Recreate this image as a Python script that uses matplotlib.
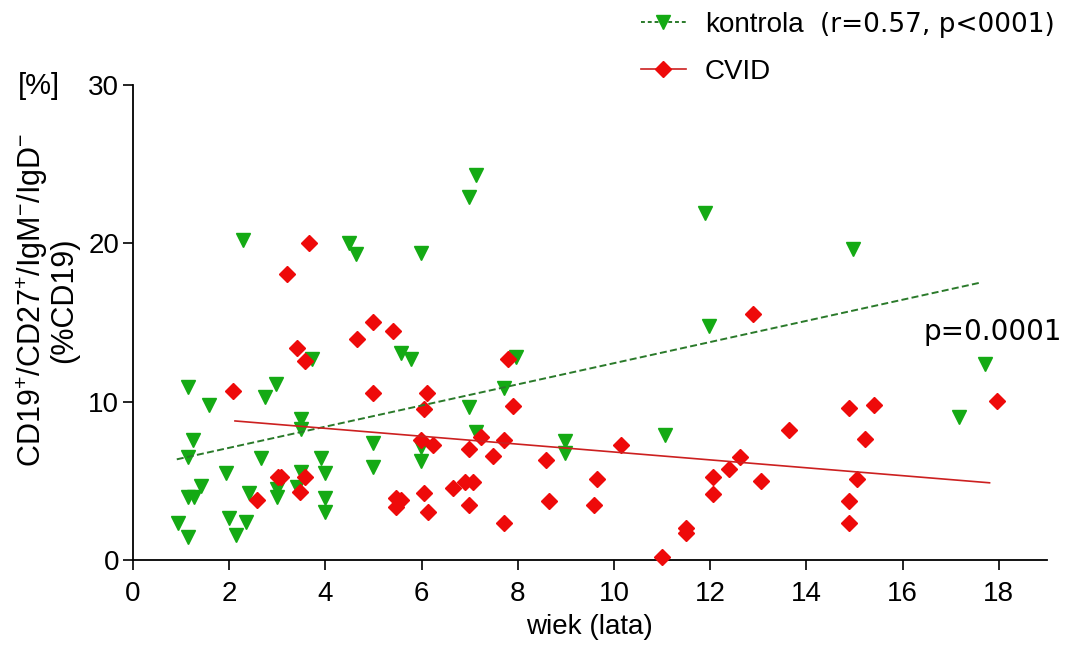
import matplotlib

matplotlib.use("Agg")
import matplotlib.pyplot as plt
from matplotlib.lines import Line2D

plt.rcParams["font.family"] = ["Liberation Sans", "DejaVu Sans"]
plt.rcParams["mathtext.default"] = "regular"

# kontrola: age (years) and CD19+/CD27+/IgM-/IgD- (% of CD19)
kontrola_wiek = [
    2.29, 4.49, 4.64, 5.99, 5.57, 5.78, 3.73, 1.15, 2.98, 2.74,
    1.58, 3.49, 3.49, 1.25, 1.15, 4.99, 5.99, 2.66, 3.91, 5.99,
    4.99, 1.94, 3.49, 4.00, 1.41, 2.41, 3.00, 3.00, 3.40, 1.15,
    1.27, 4.00, 4.00, 0.93, 1.99, 2.34, 1.15, 2.15, 7.14, 6.98,
    7.97, 7.72, 6.98, 7.14, 8.98, 8.98, 11.07, 11.90, 14.98, 11.97,
    17.72, 17.17,
]
kontrola_proc = [
    20.2, 20.05, 19.3, 19.4, 13.06, 12.7, 12.7, 10.95, 11.1, 10.3,
    9.77, 8.9, 8.3, 7.58, 6.48, 7.4, 7.16, 6.46, 6.46, 6.25,
    5.9, 5.47, 5.54, 5.47, 4.67, 4.25, 4.48, 4.0, 4.63, 4.0,
    4.0, 3.94, 3.05, 2.36, 2.63, 2.42, 1.47, 1.58, 24.3, 22.9,
    12.84, 10.88, 9.69, 8.1, 7.5, 6.74, 7.9, 21.9, 19.65, 14.78,
    12.38, 9.05,
]

# CVID patients
cvid_wiek = [
    3.65, 3.20, 4.99, 5.40, 4.65, 3.41, 3.57, 2.08, 4.99, 6.12,
    6.06, 5.99, 6.23, 3.01, 3.08, 3.57, 2.57, 3.48, 5.47, 5.57,
    5.47, 6.06, 6.13, 7.79, 7.90, 7.23, 7.72, 6.98, 7.49, 8.58,
    10.14, 9.64, 6.65, 6.90, 7.07, 6.98, 8.64, 9.59, 7.72, 11.49,
    11.49, 10.99, 12.89, 17.97, 14.88, 15.40, 13.64, 15.22, 12.63, 12.40,
    12.06, 13.06, 15.05, 12.06, 14.88, 14.88,
]
cvid_proc = [
    20.0, 18.05, 15.06, 14.47, 13.96, 13.37, 12.57, 10.7, 10.53, 10.55,
    9.56, 7.6, 7.26, 5.22, 5.22, 5.27, 3.79, 4.32, 3.9, 3.79,
    3.33, 4.23, 3.05, 12.7, 9.73, 7.79, 7.58, 7.01, 6.57, 6.32,
    7.26, 5.1, 4.53, 4.91, 4.91, 3.47, 3.75, 3.47, 2.32, 2.0,
    1.73, 0.2, 15.52, 10.06, 9.62, 9.79, 8.21, 7.62, 6.53, 5.77,
    5.22, 5.01, 5.1, 4.15, 3.75, 2.32,
]

# linear regression lines (x range, intercept, slope)
kontrola_fit_x = [0.91, 17.64]
kontrola_fit = (5.75, 0.668)
cvid_fit_x = [2.12, 17.81]
cvid_fit = (9.31, -0.249)

x_ticks = [0, 2, 4, 6, 8, 10, 12, 14, 16, 18]
y_ticks = [0, 10, 20, 30]

green = "#14aa14"
green_line = "#2a7a2a"
red = "#ee0a0a"
red_line = "#cc2020"

fig = plt.figure(figsize=(10.65, 6.45), dpi=100)
ax = fig.add_axes([0.1249, 0.1318, 0.858, 0.7364])

ax.plot(kontrola_wiek, kontrola_proc, linestyle="none", marker="v",
        markersize=9.5, color=green, clip_on=False, zorder=3)
ax.plot(cvid_wiek, cvid_proc, linestyle="none", marker="D",
        markersize=8.5, color=red, clip_on=False, zorder=4)

ky = [kontrola_fit[0] + kontrola_fit[1] * x for x in kontrola_fit_x]
cy = [cvid_fit[0] + cvid_fit[1] * x for x in cvid_fit_x]
ax.plot(kontrola_fit_x, ky, color=green_line, linewidth=1.4,
        dashes=(3.6, 1.7), zorder=5)
ax.plot(cvid_fit_x, cy, color=red_line, linewidth=1.2, zorder=5)

ax.set_xlim(0, 19)
ax.set_ylim(0, 30)
ax.set_xticks(x_ticks)
ax.set_yticks(y_ticks)
ax.tick_params(labelsize=20, length=7, width=1.2, direction="out")
ax.tick_params(axis="x", pad=8)
ax.tick_params(axis="y", pad=3)
for side in ("top", "right"):
    ax.spines[side].set_visible(False)
for side in ("left", "bottom"):
    ax.spines[side].set_linewidth(1.3)

ax.set_xlabel("wiek (lata)", fontsize=20, labelpad=5)

fig.text(47 / 1065, 1 - 300 / 645,
         "CD19$^{+}$/CD27$^{+}$/IgM$^{-}$/IgD$^{-}$\n(%CD19)",
         rotation=90, ha="center", va="center", fontsize=22,
         linespacing=0.95, multialignment="center")
fig.text(18 / 1065, 1 - 86 / 645, "[%]", fontsize=21, va="center")

ax.text(16.43, 14.4, "p=0.0001", fontsize=20, family="DejaVu Sans",
        va="center", ha="left")

handles = [
    Line2D([], [], color=green_line, linewidth=1.4, dashes=(2, 1.5),
           marker="v", markersize=9.5, markerfacecolor=green,
           markeredgecolor=green),
    Line2D([], [], color=red_line, linewidth=1.2, marker="D",
           markersize=8.5, markerfacecolor=red, markeredgecolor=red),
]
fig.legend(handles, ["kontrola", "CVID"], loc="upper left",
           bbox_to_anchor=(630 / 1065, 1 - 1 / 645), frameon=False,
           fontsize=20, handlelength=1.6, handletextpad=0.7,
           labelspacing=0.75, borderaxespad=0)
fig.text(820 / 1065, 1 - 25 / 645, "(r=0.57, p<0001)", fontsize=19,
         family="DejaVu Sans", va="center", ha="left")

fig.savefig("out.png", dpi=100)
